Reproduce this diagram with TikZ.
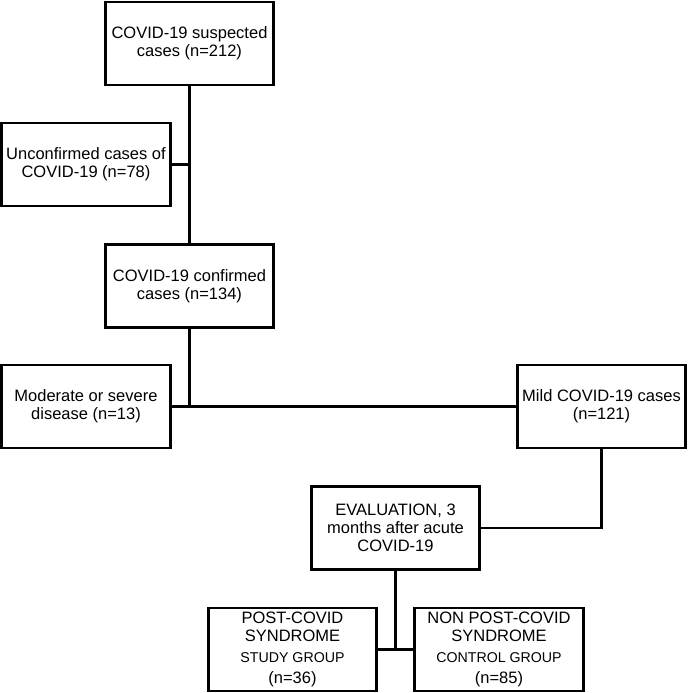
\documentclass[tikz,border=0pt]{standalone}
\usepackage{fontspec}
\setmainfont{Liberation Sans}
\usetikzlibrary{calc}

\begin{document}
\begin{tikzpicture}[
    x=1pt, y=-1pt,
    flowbox/.style={draw=black, line width=2.8pt, rectangle,
        minimum width=168.5pt, minimum height=83pt, inner sep=2pt,
        align=center, font=\fontsize{16.5}{18}\selectfont},
    link/.style={draw=black, line width=2.5pt},
    small/.style={font=\fontsize{14.2}{16}\selectfont}
]
\useasboundingbox (0,0) rectangle (688,693);

% boxes
\node[flowbox] (suspected) at (189.5,43.5) {COVID-19 suspected\\cases (n=212)};
\node[flowbox] (unconfirmed) at (86,164.5) {Unconfirmed cases of\\COVID-19 (n=78)};
\node[flowbox] (confirmed) at (189.5,286) {COVID-19 confirmed\\cases (n=134)};
\node[flowbox] (severe) at (86,406.5) {Moderate or severe\\disease (n=13)};
\node[flowbox] (mild) at (601.5,406.5) {Mild COVID-19 cases\\(n=121)};
\node[flowbox] (evaluation) at (395.5,528) {EVALUATION, 3\\months after acute\\COVID-19};
\node[flowbox] (postcovid) at (292.5,649.5)
    {POST-COVID\\SYNDROME\\[3pt]{\fontsize{14.2}{16}\selectfont STUDY GROUP}\\[3pt](n=36)};
\node[flowbox] (nonpostcovid) at (499,649.5)
    {NON POST-COVID\\SYNDROME\\[3pt]{\fontsize{14.2}{16}\selectfont CONTROL GROUP}\\[3pt](n=85)};

% connectors
\draw[link] (suspected.south) -- (confirmed.north);
\draw[link] (unconfirmed.east) -- (unconfirmed.east -| suspected.south);
\draw[link] (confirmed.south) -- (confirmed.south |- severe.east);
\draw[link] (severe.east) -- (mild.west);
\draw[link] (mild.south) |- (evaluation.east);
\draw[link] (evaluation.south) -- (evaluation.south |- postcovid.east);
\draw[link] (postcovid.east) -- (nonpostcovid.west);
\end{tikzpicture}
\end{document}
